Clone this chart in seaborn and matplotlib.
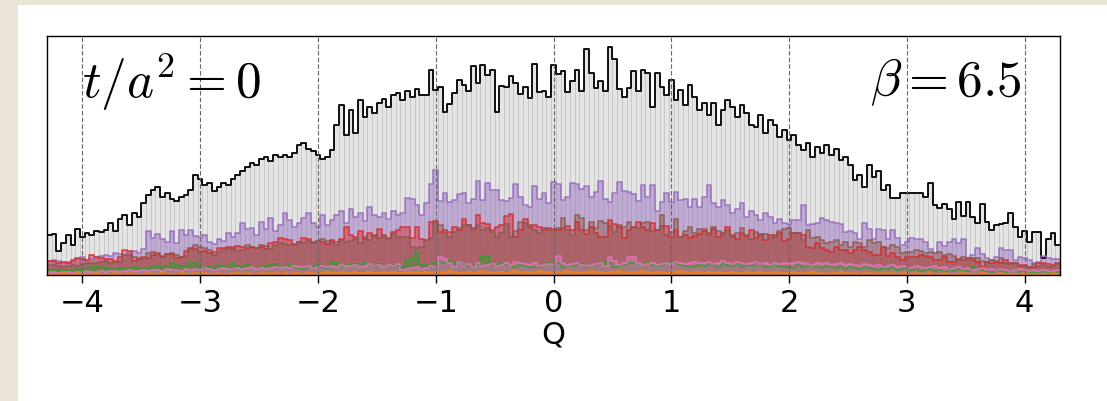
import numpy as np
import pandas as pd
import matplotlib
matplotlib.use("Agg")
import matplotlib.pyplot as plt
from matplotlib.patches import Rectangle
import seaborn as sns

sns.set_style("ticks")
plt.rcParams["font.family"] = ["DejaVu Sans"]
plt.rcParams["mathtext.fontset"] = "cm"
plt.rcParams["text.color"] = "black"
plt.rcParams["axes.labelcolor"] = "black"
plt.rcParams["xtick.color"] = "black"

# histogram of topological charge Q, 215 bins of width 0.04 on [-4.3, 4.3]
edges = np.linspace(-4.3, 4.3, 216)
centers = 0.5 * (edges[:-1] + edges[1:])
bin_list = edges.tolist()

# counts (arbitrary units)
gray = [
    40, 41, 24, 32, 40, 30, 46, 38, 42, 40,
    44, 43, 45, 52, 44, 56, 60, 50, 62, 58,
    72, 80, 85, 88, 78, 82, 76, 74, 78, 80,
    85, 100, 96, 90, 92, 84, 88, 92, 90, 96,
    100, 104, 108, 112, 110, 116, 118, 114, 120, 118,
    120, 118, 122, 130, 132, 126, 124, 120, 116, 118,
    125, 150, 170, 140, 165, 142, 175, 158, 168, 162,
    172, 176, 168, 180, 182, 175, 184, 178, 186, 180,
    180, 205, 185, 188, 163, 171, 182, 195, 190, 184,
    209, 192, 210, 200, 205, 163, 189, 188, 199, 192,
    181, 188, 177, 211, 183, 184, 178, 210, 201, 204,
    183, 194, 205, 184, 226, 202, 187, 194, 184, 228,
    216, 186, 178, 187, 204, 184, 205, 202, 168, 202,
    188, 180, 195, 175, 185, 170, 190, 178, 165, 172,
    160, 172, 150, 165, 175, 168, 158, 170, 162, 150,
    148, 160, 142, 155, 150, 138, 145, 135, 140, 130,
    125, 132, 118, 128, 122, 130, 120, 126, 115, 118,
    110, 95, 100, 88, 110, 98, 104, 85, 90, 77,
    77, 82, 82, 82, 82, 82, 78, 92, 70, 67,
    71, 66, 56, 73, 59, 73, 58, 52, 71, 53,
    45, 50, 51, 52, 62, 48, 38, 44, 33, 43,
    43, 17, 36, 42, 30,
]
purple = [
    14, 15, 14, 12, 13, 14, 16, 18, 15, 16,
    18, 19, 20, 19, 22, 21, 20, 23, 24, 22,
    26, 44, 37, 41, 36, 33, 44, 32, 45, 40,
    45, 39, 38, 40, 33, 31, 36, 34, 42, 38,
    42, 52, 46, 47, 40, 53, 46, 57, 44, 50,
    62, 55, 48, 52, 57, 62, 52, 48, 60, 50,
    55, 60, 64, 52, 66, 58, 62, 54, 68, 60,
    58, 62, 56, 64, 60,
    62, 77, 76, 70, 60, 72, 91, 105, 74, 82,
    73, 75, 81, 82, 72, 76, 94, 75, 92, 85,
    85, 75, 74, 77, 91, 78, 70, 68, 89, 76,
    82, 72, 93, 91, 75, 78, 92, 91, 86, 89,
    78, 83, 94, 76, 73, 82, 93, 84, 83, 81,
    74, 90, 78, 90, 64, 73, 82, 73, 83, 75,
    76, 68, 76, 68,
    78, 90, 72, 68, 75, 70, 62, 66, 72, 58, 64, 60, 55, 62, 58, 52, 56,
    52, 51, 55, 55, 70, 50, 51, 52, 57, 55,
    53, 52, 51, 43, 44, 42, 36, 52, 46, 36,
    46, 45, 36, 45, 37, 30, 33, 37, 36, 36,
    33, 26, 22, 33, 29, 33, 36, 32, 36, 17,
    20, 27, 21, 17, 15, 18, 27, 25, 25, 15,
    18, 17, 15, 12, 13, 19, 17, 16, 16,
]
red = [
    14, 14, 12, 13, 12, 15, 17, 16, 15, 20,
    18, 17, 16, 16, 14, 18, 25, 24, 14, 16,
    18, 17, 20, 22, 18, 21, 21, 17, 18, 24,
    27, 26, 23, 24, 22, 23, 27, 27, 28, 26,
    29, 28, 27, 28, 27, 28, 26, 32, 33, 37,
    36, 35, 31, 33, 37, 36, 32, 34, 33, 31,
    35, 33, 36, 48,
    40, 38, 44, 36, 42, 39, 46, 40, 37, 43, 45,
    48, 48, 37, 48, 36, 35, 53, 54, 43, 45,
    43, 48, 45, 56, 50, 47, 60, 52, 51, 45,
    48, 50, 59, 61, 38, 45, 56, 48, 50, 48,
    45, 47, 46, 45, 47, 49, 45, 53, 45, 41,
    48, 42, 38, 38, 55, 51, 48, 37, 45, 48,
    53, 48, 45, 52, 45, 49, 49, 38, 45, 38,
    40, 37, 39, 41,
    44, 40, 46, 38, 42, 48, 40, 36, 42, 39, 45, 37, 41, 35, 40, 38, 42,
    34, 36, 42, 42, 40, 28, 27, 32, 27, 25,
    23, 28, 25, 25, 22, 25, 28, 25, 23, 20,
    20, 28, 19, 22, 18, 15, 18, 18, 18, 20,
    19, 18, 15, 15, 18, 13, 13, 16, 15, 17,
    17, 13, 8, 13, 12, 13, 12, 15, 12, 12,
    9, 10, 8, 8, 12, 12, 11, 10, 12,
]
brown = [
    10, 10, 9, 8, 9, 10, 9, 11, 12, 12,
    12, 13, 14, 12, 13, 13, 20, 20, 18, 17,
    16, 22, 23, 20, 19, 21, 22, 20, 18, 19,
    26, 30, 28, 27, 25, 20, 23, 25, 27, 28,
    24, 25, 30, 28, 27, 30, 29, 26, 30, 32,
    31, 30, 30, 33, 32, 34, 33, 34, 36, 34,
    33, 30, 35, 33,
    34, 36, 32, 38, 35, 40, 37, 39, 36, 41, 38,
    38, 38, 28, 27, 28, 35, 37, 52, 50, 42,
    38, 43, 47, 50, 50, 45, 50, 45, 47, 43,
    38, 42, 51, 38, 44, 53, 52, 50, 45, 42,
    47, 45, 45, 47, 57, 45, 40, 60, 57, 45,
    53, 47, 54, 52, 49, 43, 50, 48, 53, 48,
    47, 52, 53, 44, 45, 60, 40, 43, 56, 38,
    44, 48, 42, 46,
    46, 42, 48, 44, 40, 45, 38, 42, 47, 40, 36, 43, 39, 41, 37, 40, 44,
    46, 47, 42, 42, 35, 45, 37, 38, 35, 32,
    33, 35, 30, 33, 28, 33, 32, 28, 35, 32,
    33, 28, 27, 30, 28, 22, 23, 23, 25, 24,
    22, 23, 22, 23, 20, 21, 19, 15, 18, 16,
    15, 17, 14, 13, 15, 14, 17, 12, 11, 12,
    10, 9, 8, 11, 9, 10, 8, 9, 11,
]
green = [
    5, 5, 5, 5, 4, 5, 6, 5, 7, 8,
    8, 8, 7, 6, 6, 7, 6, 7, 8, 6,
    7, 7, 9, 9, 8, 8, 12, 10, 9, 8,
    12, 12, 9, 7, 8, 7, 10, 9, 8, 12,
    9, 8, 10, 9, 7, 8, 9, 10, 11, 8,
    9, 10, 8, 7, 6, 8, 9, 10, 8, 7,
    13, 12, 9, 10,
    10, 11, 9, 12, 10, 8, 11, 9, 10, 8, 9,
    8, 15, 17, 22, 10, 10, 8, 12, 13, 12,
    14, 13, 13, 10, 9, 8, 10, 19, 19, 10,
    10, 12, 10, 10, 8, 10, 9, 8, 8, 8,
    10, 12, 10, 12, 8, 10, 9, 10, 11, 8,
    10, 10, 13, 13, 12, 8, 9, 10, 12, 12,
    12, 10, 12, 10, 9, 10, 13, 12, 12, 10,
    9, 8, 9, 10,
    9, 11, 10, 8, 12, 10, 9, 11, 8, 10, 9, 12, 10, 8, 9, 11, 9,
    8, 9, 7, 10, 8, 9, 10, 8, 7, 9,
    8, 7, 9, 6, 8, 7, 6, 8, 7, 6,
    5, 7, 6, 8, 5, 6, 7, 5, 6, 4,
    5, 6, 4, 5, 3, 5, 4, 6, 5, 4,
    8, 7, 5, 4, 3, 5, 4, 3, 4, 5,
    3, 4, 3, 2, 3, 4, 3, 2, 3,
]
pink = [
    3, 3, 2, 3, 3, 2, 3, 3, 4, 3,
    3, 4, 3, 4, 4, 3, 4, 5, 4, 4,
    5, 4, 5, 5, 4, 6, 5, 5, 4, 6,
    5, 6, 5, 7, 6, 5, 6, 7, 6, 6,
    7, 6, 7, 8, 6, 7, 6, 7, 8, 7,
    8, 7, 9, 8, 8, 9, 7, 8, 9, 8,
    9, 8, 10, 9,
    9, 10, 8, 9, 11, 9, 10, 8, 10, 9, 11,
    5, 6, 7, 8, 6, 7, 9, 8, 18, 16,
    12, 8, 13, 9, 11, 8, 12, 9, 10, 11,
    9, 10, 12, 10, 13, 12, 11, 10, 12, 9,
    10, 11, 10, 19, 12, 10, 11, 12, 10, 9,
    10, 11, 12, 9, 18, 14, 10, 12, 18, 18,
    12, 10, 11, 12, 10, 11, 12, 11, 13, 12,
    11, 12, 13, 12,
    12, 13, 11, 12, 14, 12, 11, 13, 12, 11, 12, 13, 11, 12, 10, 12, 11,
    12, 11, 12, 13, 12, 11, 10, 12, 11, 12,
    10, 11, 12, 10, 11, 10, 9, 11, 10, 9,
    10, 8, 9, 10, 8, 9, 8, 7, 9, 8,
    7, 8, 9, 7, 8, 6, 7, 8, 6, 7,
    5, 6, 7, 5, 6, 5, 6, 5, 4, 5,
    6, 5, 4, 5, 4, 5, 4, 4, 5,
]
orange = [
    1, 1, 1, 2, 1, 1, 2, 1, 1, 1, 2, 1, 1, 1, 2, 1, 1, 2, 1, 1,
    1, 2, 1, 1, 2, 1, 1, 1, 2, 1, 1, 2, 1, 2, 1, 1, 2, 1, 1, 2,
    2, 1, 2, 1, 1, 2, 1, 2, 2, 1, 2, 1, 2, 2, 1, 2, 2, 1, 2, 3,
    2, 2, 3, 2, 2, 3, 2, 2, 3, 2, 2, 3, 2, 3, 2, 2, 3, 2, 3, 2,
    3, 2, 3, 3, 2, 4, 3, 2, 3, 3, 2, 3, 4, 3, 2, 3, 3, 2, 3, 4,
    3, 3, 2, 3, 4, 3, 3, 2, 3, 3, 4, 3, 3, 2, 3, 4, 3, 3, 2, 3,
    3, 4, 3, 2, 3, 3, 4, 3, 2, 3, 3, 2, 3, 3, 4, 3, 2, 3, 3, 2,
    3, 2, 3, 2, 2, 3, 2, 2, 3, 2, 2, 3, 2, 2, 3, 2, 2, 2, 3, 2,
    2, 2, 3, 2, 2, 1, 2, 2, 3, 2, 2, 2, 1, 2, 2, 1, 2, 2, 1, 2,
    1, 2, 1, 1, 2, 1, 1, 2, 1, 1, 2, 1, 1, 1, 2, 1, 1, 1, 2, 1,
    1, 1, 2, 1, 1, 1, 1, 2, 1, 1, 1, 1, 1, 2, 1,
]

layers = [
    (purple, "tab:purple"),
    (red, "tab:red"),
    (brown, "tab:brown"),
    (green, "tab:green"),
    (pink, "tab:pink"),
    (orange, "tab:orange"),
]


def frame(vals):
    return pd.DataFrame({"Q": centers, "n": np.asarray(vals, dtype=float)})


fig = plt.figure(figsize=(11.07, 4.02), dpi=100)
fig.patch.set_facecolor("#ebe5d8")
fig.add_artist(Rectangle((18 / 1107, 0), 1, 1 - 6 / 402, transform=fig.transFigure,
                         facecolor="white", edgecolor="none", zorder=-10))
ax = fig.add_axes([47 / 1107, 1 - 276 / 402, 1013 / 1107, 239 / 402])

# flow time 0: light gray bars with black outline
df0 = frame(gray)
sns.histplot(data=df0, x="Q", weights="n", bins=bin_list, element="bars", color="#e4e4e4",
             edgecolor="#c6c6c6", linewidth=0.6, alpha=1, ax=ax)
sns.histplot(data=df0, x="Q", weights="n", bins=bin_list, element="step", fill=False,
             color="black", linewidth=1.3, ax=ax)

for vals, c in layers:
    df = frame(vals)
    sns.histplot(data=df, x="Q", weights="n", bins=bin_list, element="step", fill=True,
                 color=c, alpha=0.45, linewidth=0, ax=ax)
    sns.histplot(data=df, x="Q", weights="n", bins=bin_list, element="step", fill=False,
                 color=c, alpha=0.8, linewidth=1.2, ax=ax)

ax.set_xlim(-4.3, 4.3)
ax.set_ylim(0, 239)
ax.set_yticks([])
ax.set_ylabel("")
ax.set_xticks(range(-4, 5))
ax.tick_params(axis="x", labelsize=22, length=6, width=1, colors="black")
ax.set_xlabel("Q", fontsize=22, labelpad=2)
ax.set_axisbelow(False)
ax.grid(axis="x", color="#666666", linestyle=(0, (4, 2)), linewidth=0.8)
for s in ax.spines.values():
    s.set_visible(True)
    s.set_color("black")
    s.set_linewidth(1.0)

ax.text(0.035, 0.81, r"$t/a^2=0$", transform=ax.transAxes, fontsize=37,
        ha="left", va="center")
ax.text(0.962, 0.81, r"$\beta=6.5$", transform=ax.transAxes, fontsize=37,
        ha="right", va="center")

fig.savefig("out.png", dpi=100)
